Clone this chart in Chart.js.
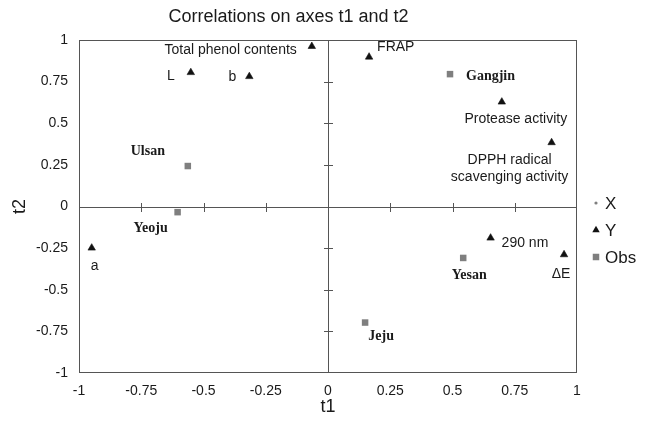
<!DOCTYPE html>
<html><head><meta charset="utf-8">
<script src="https://cdn.jsdelivr.net/npm/chart.js@4"></script>
<style>html,body{margin:0;padding:0;background:#fff}#wrap{width:653px;height:429px}</style>
</head><body><div id="wrap"><canvas id="c" width="653" height="429"></canvas></div>
<script>
// ---- data ----
const variableNames = ['Total phenol contents','L','b','FRAP','Protease activity','DPPH radical\nscavenging activity','290 nm','\u0394E','a'];
const variableT1 = [-0.065,-0.551,-0.316,0.165,0.698,0.898,0.653,0.948,-0.949];
const variableT2 = [0.962,0.805,0.781,0.898,0.628,0.384,-0.189,-0.289,-0.249];
const obsNames = ['Gangjin','Ulsan','Yeoju','Yesan','Jeju'];
const obsT1 = [0.490,-0.563,-0.604,0.543,0.149];
const obsT2 = [0.795,0.243,-0.034,-0.309,-0.697];
const axisTicks = [-1,-0.75,-0.5,-0.25,0,0.25,0.5,0.75,1];
const seriesNames = ['X','Y','Obs'];

// ---- styles ----
const SANS = "'Liberation Sans', Arial, sans-serif";
const SERIF = "'Liberation Serif', 'Times New Roman', serif";
const TXT = '#1a1a1a';
const labelPlacement = {
  'Total phenol contents': {dx:-15, dy:4, align:'right'},
  'L': {dx:-16, dy:4, align:'right'},
  'b': {dx:-13, dy:1, align:'right'},
  'FRAP': {dx:8, dy:-10, align:'left'},
  'Protease activity': {dx:14, dy:17, align:'center'},
  'DPPH radical\nscavenging activity': {dx:-42, dy:18, align:'center'},
  '290 nm': {dx:11, dy:5, align:'left'},
  '\u0394E': {dx:-3, dy:20, align:'center'},
  'a': {dx:3, dy:18, align:'center'},
  'Gangjin': {dx:16, dy:2, align:'left'},
  'Ulsan': {dx:-40, dy:-15, align:'center'},
  'Yeoju': {dx:-27, dy:16, align:'center'},
  'Yesan': {dx:6, dy:17, align:'center'},
  'Jeju': {dx:16, dy:14, align:'center'}
};
const legendPos = {x:596, textX:605, ys:[203,230,257]};

const toPts = (xs, ys) => xs.map((v,i)=>({x:v, y:ys[i]}));

const framePlugin = {
  id:'frame',
  beforeDatasetsDraw(chart){
    const {ctx, chartArea:a, scales:{x, y}} = chart;
    ctx.save();
    ctx.strokeStyle = '#555';
    ctx.lineWidth = 1;
    ctx.strokeRect(Math.round(a.left)+0.5, Math.round(a.top)+0.5, Math.round(a.right-a.left)-1, Math.round(a.bottom-a.top)-1);
    const x0 = Math.round(x.getPixelForValue(0))+0.5;
    const y0 = Math.round(y.getPixelForValue(0))+0.5;
    ctx.beginPath();
    ctx.moveTo(x0, a.top); ctx.lineTo(x0, a.bottom);
    ctx.moveTo(a.left, y0); ctx.lineTo(a.right, y0);
    axisTicks.forEach(v=>{
      if (v===0 || Math.abs(v)===1) return;
      const py = Math.round(y.getPixelForValue(v))+0.5;
      ctx.moveTo(x0-4.5, py); ctx.lineTo(x0+4.5, py);
      const px = Math.round(x.getPixelForValue(v))+0.5;
      ctx.moveTo(px, y0-4.5); ctx.lineTo(px, y0+4.5);
    });
    ctx.stroke();
    ctx.restore();
  }
};

const labelPlugin = {
  id:'pointLabels',
  afterDatasetsDraw(chart){
    const ctx = chart.ctx;
    ctx.save();
    ctx.fillStyle = TXT;
    ctx.textBaseline = 'middle';
    chart.data.datasets.forEach((ds, di)=>{
      if (!ds.names) return;
      const meta = chart.getDatasetMeta(di);
      ctx.font = ds.labelFont;
      ds.names.forEach((n, i)=>{
        const el = meta.data[i];
        const p = labelPlacement[n] || {dx:8, dy:0, align:'left'};
        ctx.textAlign = p.align;
        n.split('\n').forEach((line, li)=>{
          ctx.fillText(line, el.x + p.dx, el.y + p.dy + li*17);
        });
      });
    });
    ctx.restore();
  }
};

function drawMarker(ctx, style, r, color, x, y){
  ctx.save();
  ctx.fillStyle = color;
  ctx.beginPath();
  if (style === 'triangle'){
    ctx.moveTo(x, y - r);
    ctx.lineTo(x + r*0.866, y + r*0.5);
    ctx.lineTo(x - r*0.866, y + r*0.5);
    ctx.closePath();
  } else if (style === 'rect'){
    const s = r*Math.SQRT1_2;
    ctx.rect(x-s, y-s, 2*s, 2*s);
  } else {
    ctx.arc(x, y, r, 0, Math.PI*2);
  }
  ctx.fill();
  ctx.restore();
}

const legendPlugin = {
  id:'sideLegend',
  afterDraw(chart){
    const ctx = chart.ctx;
    ctx.save();
    chart.data.datasets.forEach((ds, i)=>{
      const yy = legendPos.ys[i];
      drawMarker(ctx, ds.pointStyle, ds.pointRadius, ds.backgroundColor, legendPos.x, yy);
      ctx.fillStyle = TXT;
      ctx.font = "17px " + SANS;
      ctx.textAlign = 'left';
      ctx.textBaseline = 'middle';
      ctx.fillText(ds.label, legendPos.textX, yy+1);
    });
    ctx.restore();
  }
};

const axisCommon = {
  type:'linear', min:-1, max:1,
  afterBuildTicks: s => { s.ticks = axisTicks.map(v=>({value:v})); },
  grid:{display:false, drawTicks:false},
  border:{display:false},
  ticks:{color:TXT, font:{family:SANS, size:14}, callback:v=>String(v)}
};

new Chart(document.getElementById('c'), {
  type:'scatter',
  data:{datasets:[
    {label:seriesNames[0], data:[], pointStyle:'circle', pointRadius:1.6, backgroundColor:'#7f7f7f', borderWidth:0},
    {label:seriesNames[1], data:toPts(variableT1, variableT2), names:variableNames, labelFont:"14px "+SANS,
     pointStyle:'triangle', pointRadius:4.3, backgroundColor:'#111', borderColor:'#111', borderWidth:0.6},
    {label:seriesNames[2], data:toPts(obsT1, obsT2), names:obsNames, labelFont:"bold 14px "+SERIF,
     pointStyle:'rect', pointRadius:4.6, backgroundColor:'#7f7f7f', borderColor:'#7f7f7f', borderWidth:0}
  ]},
  options:{
    responsive:false, animation:false, devicePixelRatio:1,
    layout:{padding:{left:0, right:76, top:0, bottom:0}},
    plugins:{
      legend:{display:false},
      tooltip:{enabled:false},
      title:{display:true, text:'Correlations on axes t1 and t2', color:TXT,
        font:{family:SANS, size:18, weight:'normal'}, padding:{top:6, bottom:12.4}}
    },
    scales:{
      x:Object.assign({}, axisCommon, {
        position:'bottom',
        ticks:Object.assign({}, axisCommon.ticks, {padding:10, maxRotation:0, autoSkip:false}),
        title:{display:true, text:'t1', color:TXT, font:{family:SANS, size:18}, padding:{top:0, bottom:11}},
        afterFit: s => { s.height = 56; }
      }),
      y:Object.assign({}, axisCommon, {
        position:'left',
        ticks:Object.assign({}, axisCommon.ticks, {padding:11, autoSkip:false}),
        title:{display:true, text:'t2', color:TXT, font:{family:SANS, size:18}, padding:{top:9, bottom:0}},
        afterFit: s => { s.width = 79; }
      })
    }
  },
  plugins:[framePlugin, labelPlugin, legendPlugin]
});
</script></body></html>
